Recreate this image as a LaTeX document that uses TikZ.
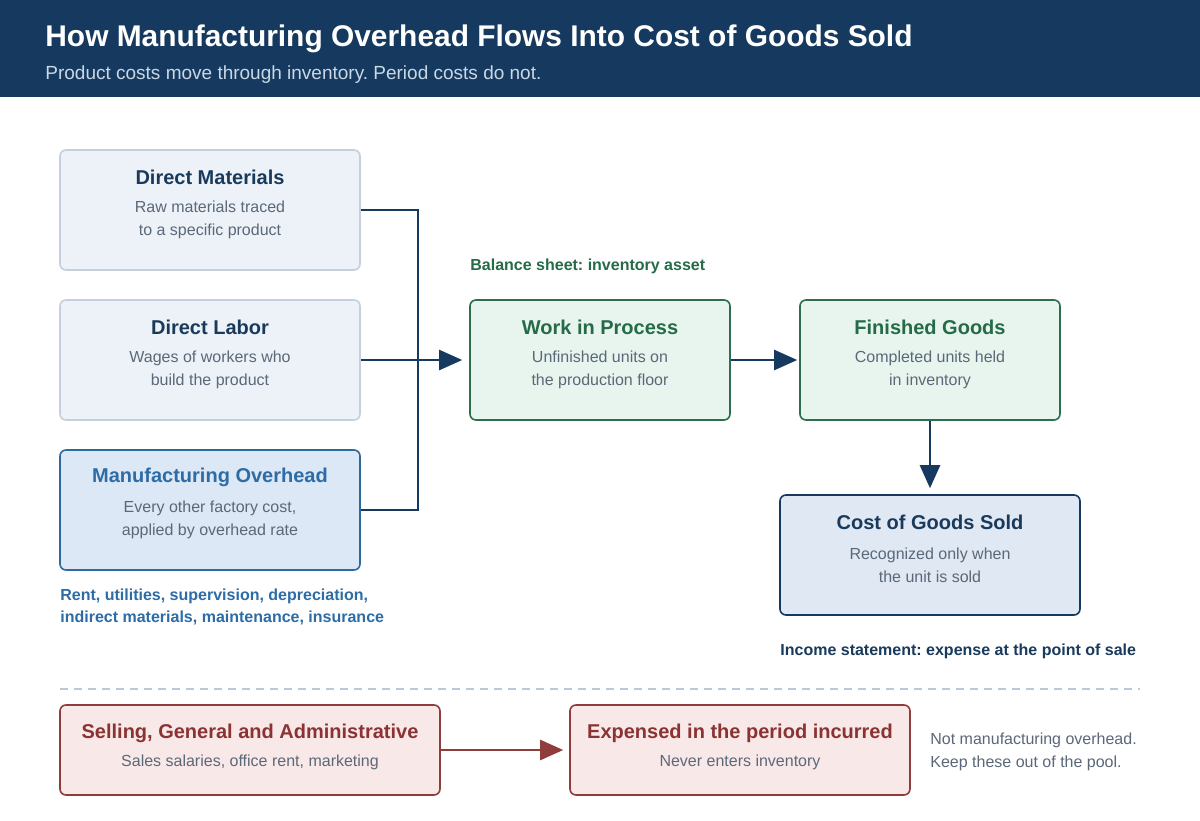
\documentclass[tikz,border=0pt]{standalone}
\usepackage{fontspec}
\setmainfont{Liberation Sans}
\usetikzlibrary{arrows.meta}
\frenchspacing
\definecolor{hdr}{HTML}{163A5F}
\definecolor{hdrsub}{HTML}{C9D7E6}
\definecolor{navy}{HTML}{1A3A5C}
\definecolor{subgrey}{HTML}{5B6878}
\definecolor{gfill}{HTML}{EDF2F8}
\definecolor{gdraw}{HTML}{C5D0DC}
\definecolor{bfill}{HTML}{DCE8F5}
\definecolor{bdraw}{HTML}{2F6A9F}
\definecolor{btext}{HTML}{2D6CA5}
\definecolor{grfill}{HTML}{E7F5EE}
\definecolor{grdraw}{HTML}{2E6E4E}
\definecolor{grtext}{HTML}{256B48}
\definecolor{cfill}{HTML}{DFE8F3}
\definecolor{rfill}{HTML}{F9E8E8}
\definecolor{rdraw}{HTML}{8E3C3C}
\definecolor{rtext}{HTML}{8B3333}
\definecolor{dashc}{HTML}{B9C9D9}
\tikzset{
  box/.style={draw, rounded corners=3pt, line width=0.8pt, inner sep=0pt},
  greybox/.style={box, fill=gfill, draw=gdraw},
  bluebox/.style={box, fill=bfill, draw=bdraw},
  greenbox/.style={box, fill=grfill, draw=grdraw},
  navybox/.style={box, fill=cfill, draw=hdr},
  redbox/.style={box, fill=rfill, draw=rdraw},
  ttl/.style={font=\fontsize{10}{12}\selectfont\bfseries, inner sep=0pt},
  sub/.style={font=\fontsize{8}{11.5}\selectfont, text=subgrey, align=center, inner sep=0pt},
  note/.style={font=\fontsize{8}{11}\selectfont\bfseries, align=left, inner sep=0pt, anchor=west},
  conn/.style={line width=1.25pt, draw=hdr},
  tip/.style={-{Triangle[length=11.5pt,width=10pt]}},
}
\begin{document}
\begin{tikzpicture}[x=0.5pt,y=-0.5pt]
\useasboundingbox (0,0) rectangle (1200,820);
\fill[white] (0,0) rectangle (1200,820);
% header
\fill[hdr] (0,0) rectangle (1200,97);
\node[anchor=base west, inner sep=0pt, text=white, font=\fontsize{14.95}{17}\selectfont\bfseries] (title) at (45,46) {How Manufacturing Overhead Flows Into Cost of Goods Sold};
\node[anchor=base west, inner sep=0pt, text=hdrsub, font=\fontsize{9.5}{11}\selectfont] (subtitle) at (45,79) {Product costs move through inventory. Period costs do not.};
% left boxes
\node[greybox, minimum width=150pt, minimum height=60pt] (dm) at (210,210) {};
\node[ttl, text=navy] at (210,177) {Direct Materials};
\node[sub] at (210,220) {Raw materials traced\\to a specific product};
\node[greybox, minimum width=150pt, minimum height=60pt] (dl) at (210,360) {};
\node[ttl, text=navy] at (210,327) {Direct Labor};
\node[sub] at (210,370) {Wages of workers who\\build the product};
\node[bluebox, minimum width=150pt, minimum height=60pt] (mo) at (210,510) {};
\node[ttl, text=btext] at (210,477) {Manufacturing Overhead};
\node[sub] at (210,520) {Every other factory cost,\\applied by overhead rate};
\node[note, text=btext] (monote) at (60,607) {Rent, utilities, supervision, depreciation,\\indirect materials, maintenance, insurance};
% green boxes
\node[note, text=grtext] (bs) at (470,266) {Balance sheet: inventory asset};
\node[greenbox, minimum width=130pt, minimum height=60pt] (wip) at (600,360) {};
\node[ttl, text=grtext] at (600,327) {Work in Process};
\node[sub] at (600,370) {Unfinished units on\\the production floor};
\node[greenbox, minimum width=130pt, minimum height=60pt] (fg) at (930,360) {};
\node[ttl, text=grtext] at (930,327) {Finished Goods};
\node[sub] at (930,370) {Completed units held\\in inventory};
% COGS
\node[navybox, minimum width=150pt, minimum height=60pt] (cogs) at (930,555) {};
\node[ttl, text=navy] at (930,522) {Cost of Goods Sold};
\node[sub] at (930,565) {Recognized only when\\the unit is sold};
\node[note, text=navy] (is) at (780,651) {Income statement: expense at the point of sale};
% connectors
\draw[conn] (dm.east) -- (418,210) -- (418,510) -- (mo.east);
\draw[conn, tip, shorten >=3.5pt] (dl.east) -- (wip.west);
\draw[conn, tip, shorten >=1pt] (wip.east) -- (fg.west);
\draw[conn, tip, shorten >=3pt] (fg.south) -- (cogs.north);
% dashed separator
\draw[dashc, line width=0.7pt, dash pattern=on 4pt off 3pt] (60,689) -- (1140,689);
% period costs
\node[redbox, minimum width=190pt, minimum height=45pt] (sga) at (250,750) {};
\node[ttl, text=rtext] at (250,733) {Selling, General and Administrative};
\node[sub] at (250,762) {Sales salaries, office rent, marketing};
\node[redbox, minimum width=170pt, minimum height=45pt] (exp) at (740,750) {};
\node[ttl, text=rtext] at (740,733) {Expensed in the period incurred};
\node[sub] at (740,762) {Never enters inventory};
\draw[line width=1.25pt, draw=rdraw, tip, shorten >=3pt] (sga.east) -- (exp.west);
\node[sub, align=left, anchor=west] (pn) at (930,752) {Not manufacturing overhead.\\Keep these out of the pool.};
\end{tikzpicture}
\end{document}
